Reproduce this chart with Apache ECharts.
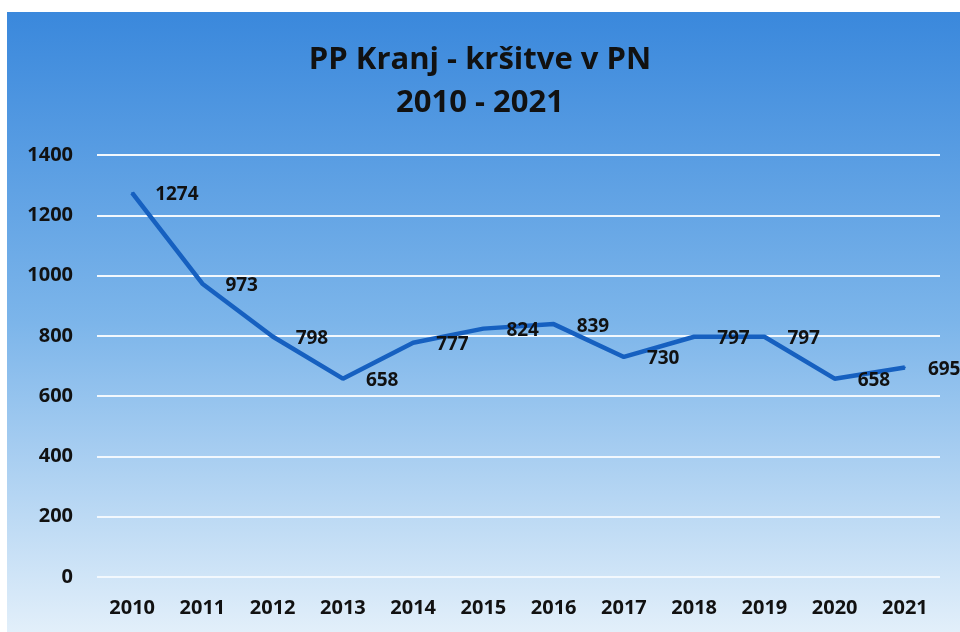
<!DOCTYPE html>
<html>
<head>
<meta charset="utf-8">
<script src="https://cdn.jsdelivr.net/npm/echarts@6/dist/echarts.min.js"></script>
<style>
  html, body { margin: 0; padding: 0; background: #fff; }
  #chart { width: 960px; height: 632px; }
</style>
</head>
<body>
<div id="chart"></div>
<script>
var years = ['2010', '2011', '2012', '2013', '2014', '2015', '2016', '2017', '2018', '2019', '2020', '2021'];
var krsitve = [1274, 973, 798, 658, 777, 824, 839, 730, 797, 797, 658, 695];
var yTicks = [0, 200, 400, 600, 800, 1000, 1200, 1400];

var myChart = echarts.init(document.getElementById('chart'));
var textFont = '"Open Sans", sans-serif';

option = {
    backgroundColor: '#ffffff',
    animation: false,
    graphic: [{
        type: 'rect',
        left: 7,
        top: 12,
        z: -10,
        shape: { width: 953, height: 620 },
        style: {
            fill: new echarts.graphic.LinearGradient(0, 0, 0, 1, [
                { offset: 0, color: '#3a88dc' },
                { offset: 0.5, color: '#7cb5ea' },
                { offset: 1, color: '#e2effa' }
            ])
        }
    }],
    title: {
        text: 'PP Kranj - kršitve v PN\n2010 - 2021',
        left: 'center',
        top: 34,
        textStyle: {
            fontFamily: textFont,
            fontWeight: 'bold',
            fontSize: 31,
            lineHeight: 43,
            color: '#111111'
        }
    },
    grid: {
        left: 97,
        right: 20,
        top: 155,
        bottom: 55
    },
    xAxis: {
        type: 'category',
        data: years,
        boundaryGap: true,
        axisLine: { show: false },
        axisTick: { show: false },
        axisLabel: {
            margin: 21,
            fontFamily: textFont,
            fontWeight: 'bold',
            fontSize: 20,
            color: '#111111'
        }
    },
    yAxis: {
        type: 'value',
        min: yTicks[0],
        max: yTicks[yTicks.length - 1],
        interval: 200,
        axisLine: { show: false },
        axisTick: { show: false },
        axisLabel: {
            margin: 24,
            formatter: function (value) {
                return String(value);
            },
            fontFamily: textFont,
            fontWeight: 'bold',
            fontSize: 20,
            color: '#111111'
        },
        splitLine: {
            lineStyle: { color: '#f2f8fd', width: 2 }
        }
    },
    series: [{
        type: 'line',
        data: krsitve,
        showSymbol: true,
        showAllSymbol: true,
        symbol: 'circle',
        symbolSize: 2,
        itemStyle: { color: '#1660c0' },
        lineStyle: { color: '#1660c0', width: 4.5 },
        label: {
            show: true,
            position: 'right',
            distance: 22,
            offset: [0, 2],
            fontFamily: textFont,
            fontWeight: 'bold',
            fontSize: 19,
            color: '#111111'
        }
    }]
};
myChart.setOption(option);
</script>
</body>
</html>
